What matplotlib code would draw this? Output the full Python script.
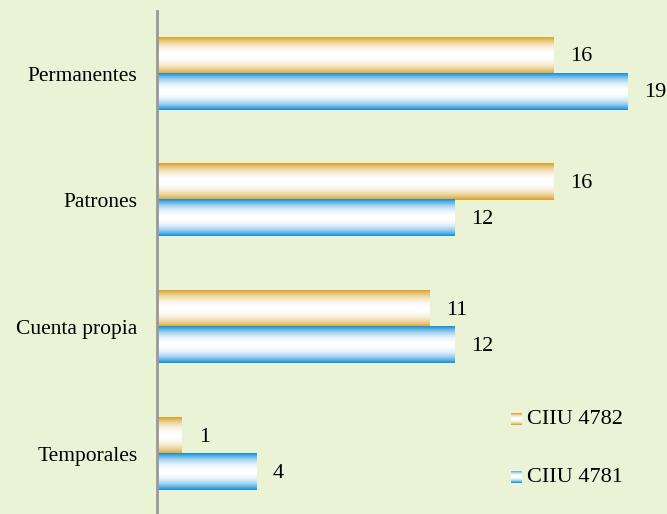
import numpy as np
import matplotlib

matplotlib.use("Agg")
import matplotlib.pyplot as plt

categories = ["Temporales", "Cuenta propia", "Patrones", "Permanentes"]
ciiu_4782 = [1, 11, 16, 16]
ciiu_4781 = [4, 12, 12, 19]
series_names = ["CIIU 4782", "CIIU 4781"]

bg = "#ebf3d7"
orange = np.array([0.85, 0.64, 0.16])
blue = np.array([0.08, 0.56, 0.85])


def gradient(c, n=64):
    # colour at the edges, white in the middle
    t = np.abs(np.linspace(-1, 1, n)) ** 2.2
    img = 1 - t[:, None] * (1 - c[None, :])
    return img[:, None, :]


plt.rcParams["font.family"] = ["Liberation Serif", "DejaVu Serif"]

fig = plt.figure(figsize=(6.67, 5.14), dpi=100, facecolor=bg)
ax = fig.add_axes([157 / 667, 0, 1 - 157 / 667, 503 / 514], facecolor=bg)

h = 0.284
y = np.arange(len(categories))
for i in range(len(categories)):
    for val, col, off in [(ciiu_4782[i], orange, h / 2), (ciiu_4781[i], blue, -h / 2)]:
        yc = y[i] + off
        ax.imshow(gradient(col), extent=[0, val, yc - h / 2, yc + h / 2],
                  aspect="auto", interpolation="bilinear", zorder=2)
        ax.text(val + 0.69, yc - 0.01, str(val), va="center", ha="left", fontsize=16)

ax.set_xlim(0, 20.6)
ax.set_ylim(-0.473, 3.493)
ax.set_yticks(y)
ax.set_yticklabels(categories, fontsize=15.5)
ax.tick_params(axis="y", length=0, pad=14)
ax.set_xticks([])
for s in ["top", "right", "bottom"]:
    ax.spines[s].set_visible(False)
ax.spines["left"].set_color("#999999")
ax.spines["left"].set_linewidth(2)
ax.spines["left"].set_zorder(3)

# legend
for name, col, ypix in [(series_names[0], orange, 419), (series_names[1], blue, 477)]:
    sw = fig.add_axes([511 / 667, 1 - (ypix + 6) / 514, 11 / 667, 12 / 514])
    sw.imshow(gradient(col, 16), aspect="auto", interpolation="bilinear")
    sw.axis("off")
    fig.text(527 / 667, 1 - (ypix + 1) / 514, name, va="center", ha="left", fontsize=16)

plt.savefig("out.png", dpi=100, facecolor=bg)
